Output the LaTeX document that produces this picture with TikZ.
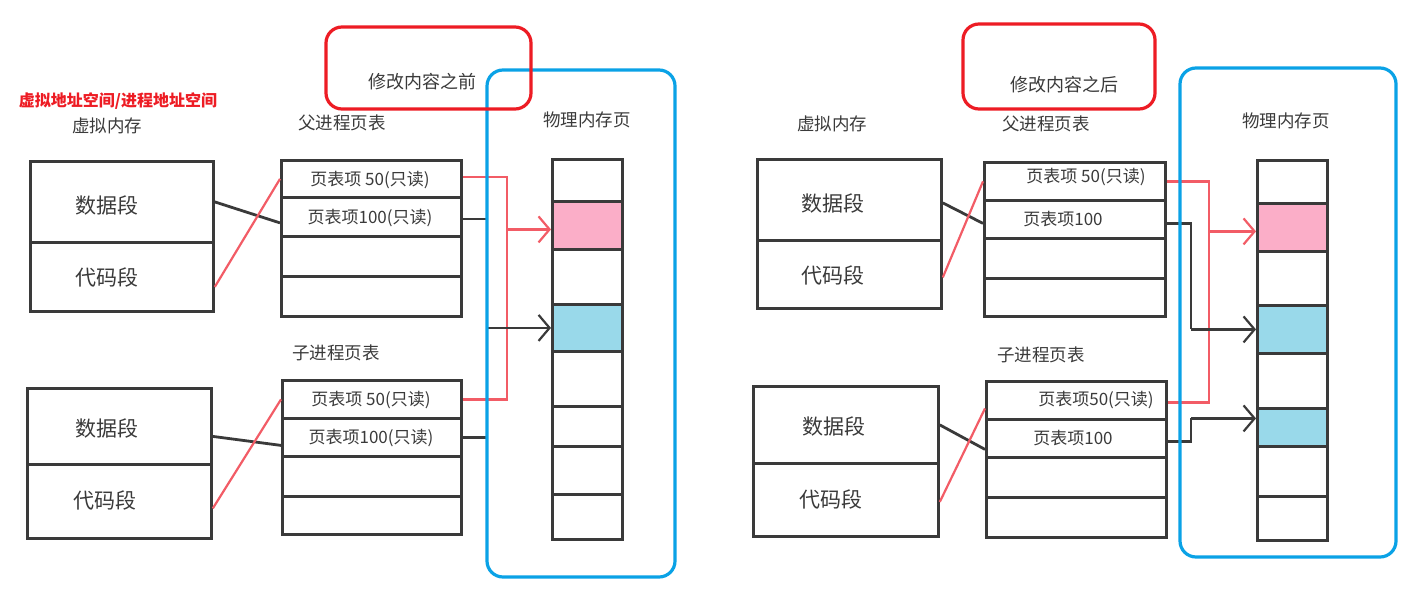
\documentclass[tikz,border=0pt]{standalone}
\usepackage{fontspec}
\setmainfont{Noto Sans CJK SC}
\usetikzlibrary{arrows.meta}
\definecolor{ink}{HTML}{3A3A3A}
\definecolor{redline}{HTML}{F25C66}
\definecolor{framered}{HTML}{ED1C24}
\definecolor{frameblue}{HTML}{0AA2E6}
\definecolor{pinkcell}{HTML}{FBAEC8}
\definecolor{bluecell}{HTML}{99D9EA}
\begin{document}
\begin{tikzpicture}[x=1pt,y=-1pt,
  box/.style={draw=ink,line width=2.8pt,inner sep=0pt,anchor=north west},
  lbl/.style={font=\fontsize{17.5}{20}\selectfont,text=ink,inner sep=0pt},
  seg/.style={font=\fontsize{21}{24}\selectfont,text=ink,inner sep=0pt},
  rowtxt/.style={font=\fontsize{17}{19}\selectfont,text=ink,inner sep=0pt},
  blk/.style={draw=ink,line width=2.8pt},
  redl/.style={draw=redline,line width=2.2pt},
  tip/.style={-{Straight Barb[length=11pt,width=26pt,line width=2.2pt]}},
  redframe/.style={draw=framered,line width=3.2pt,rounded corners=16pt},
  blueframe/.style={draw=frameblue,line width=3.2pt,rounded corners=16pt}]
\useasboundingbox (0,0) rectangle (1420,594);

% ================= LEFT (before) =================
\node[font=\bfseries\fontsize{16}{18}\selectfont,text=framered,inner sep=0pt] (ltitle) at (118,101) {虚拟地址空间/进程地址空间};
\node[lbl] (lvm) at (107,126) {虚拟内存};
\node[lbl] (lppt) at (342,123) {父进程页表};
\node[lbl] (lpm) at (587,120) {物理内存页};
\node[lbl] (lcpt) at (336,353) {子进程页表};

% virtual memory boxes
\node[box,minimum width=183pt,minimum height=81pt] (lvd) at (29,160) {};
\node[box,minimum width=183pt,minimum height=69pt] (lvc) at (29,241) {};
\node[box,minimum width=184pt,minimum height=76pt] (lcvd) at (26,387) {};
\node[box,minimum width=184pt,minimum height=74pt] (lcvc) at (26,463) {};
\node[seg] (lvdt) at (107,205) {数据段};
\node[seg] (lvct) at (107,277) {代码段};
\node[seg] (lcvdt) at (107,428) {数据段};
\node[seg] (lcvct) at (105,500) {代码段};

% parent page table
\node[box,minimum width=180pt,minimum height=37pt] (lpp1) at (280,159) {};
\node[box,minimum width=180pt,minimum height=39pt] (lpp2) at (280,196) {};
\node[box,minimum width=180pt,minimum height=40pt] (lpp3) at (280,235) {};
\node[box,minimum width=180pt,minimum height=40pt] (lpp4) at (280,275) {};
\node[rowtxt] (lpt1) at (370,180) {页表项 50(只读)};
\node[rowtxt] (lpt2) at (370,218) {页表项100(只读)};
% child page table
\node[box,minimum width=179pt,minimum height=38pt] (lcp1) at (281,379) {};
\node[box,minimum width=179pt,minimum height=38pt] (lcp2) at (281,417) {};
\node[box,minimum width=179pt,minimum height=40pt] (lcp3) at (281,455) {};
\node[box,minimum width=179pt,minimum height=38pt] (lcp4) at (281,495) {};
\node[rowtxt] (lct1) at (371,400) {页表项 50(只读)};
\node[rowtxt] (lct2) at (371,438) {页表项100(只读)};

% physical memory column
\node[box,minimum width=70pt,minimum height=42pt] (lm1) at (551,158) {};
\node[box,fill=pinkcell,minimum width=70pt,minimum height=48pt] (lm2) at (551,200) {};
\node[box,minimum width=70pt,minimum height=55pt] (lm3) at (551,248) {};
\node[box,fill=bluecell,minimum width=70pt,minimum height=47pt] (lm4) at (551,303) {};
\node[box,minimum width=70pt,minimum height=55pt] (lm5) at (551,350) {};
\node[box,minimum width=70pt,minimum height=40pt] (lm6) at (551,405) {};
\node[box,minimum width=70pt,minimum height=48pt] (lm7) at (551,445) {};
\node[box,minimum width=70pt,minimum height=45pt] (lm8) at (551,493) {};

% connectors virtual -> page table
\draw[blk] (lvd.east) -- ([yshift=-6pt]lpp2.west);
\draw[redl] ([yshift=-10pt]lvc.east) -- (lpp1.west);
\draw[blk] ([yshift=-10pt]lcvd.east) -- ([yshift=-8pt]lcp2.west);
\draw[redl] ([yshift=-7pt]lcvc.east) -- (lcp1.west);

% page table -> physical
\coordinate (lrx) at (507,300);
\coordinate (lbx) at (487,300);
\draw[redl] ([yshift=2pt]lpp1.east) -- ([yshift=2pt]lpp1.east -| lrx) -- (lcp1.east -| lrx) -- (lcp1.east);
\draw[redl,tip] ([yshift=-4pt]lrx |- lm2.west) -- ([yshift=-4pt]lm2.west);
\draw[blk] ([yshift=-2pt]lpp2.east) -- ([yshift=-2pt]lpp2.east -| lbx) -- (lcp2.east -| lbx) -- (lcp2.east);
\draw[blk,tip] (lbx |- lm4.west) -- (lm4.west);

% frames
\draw[blueframe] (487,70) rectangle (675,577);
\draw[redframe] (326,27) rectangle (531,109);
\node[lbl,font=\fontsize{18}{20}\selectfont] (lbefore) at (422,82) {修改内容之前};

% ================= RIGHT (after) =================
\node[lbl] (rvm) at (832,124) {虚拟内存};
\node[lbl] (rppt) at (1046,124) {父进程页表};
\node[lbl] (rpm) at (1286,121) {物理内存页};
\node[lbl] (rcpt) at (1041,355) {子进程页表};

\node[box,minimum width=184pt,minimum height=81pt] (rvd) at (756,158) {};
\node[box,minimum width=184pt,minimum height=68pt] (rvc) at (756,239) {};
\node[box,minimum width=185pt,minimum height=77pt] (rcvd) at (752,385) {};
\node[box,minimum width=185pt,minimum height=73pt] (rcvc) at (752,462) {};
\node[seg] (rvdt) at (833,203) {数据段};
\node[seg] (rvct) at (833,275) {代码段};
\node[seg] (rcvdt) at (834,426) {数据段};
\node[seg] (rcvct) at (831,499) {代码段};

\node[box,minimum width=181pt,minimum height=38pt] (rpp1) at (983,161) {};
\node[box,minimum width=181pt,minimum height=38pt] (rpp2) at (983,199) {};
\node[box,minimum width=181pt,minimum height=40pt] (rpp3) at (983,237) {};
\node[box,minimum width=181pt,minimum height=38pt] (rpp4) at (983,277) {};
\node[rowtxt] (rpt1) at (1086,177) {页表项 50(只读)};
\node[rowtxt] (rpt2) at (1063,219) {页表项100};

\node[box,minimum width=180pt,minimum height=38pt] (rcp1) at (985,380) {};
\node[box,minimum width=180pt,minimum height=38pt] (rcp2) at (985,418) {};
\node[box,minimum width=180pt,minimum height=40pt] (rcp3) at (985,456) {};
\node[box,minimum width=180pt,minimum height=40pt] (rcp4) at (985,496) {};
\node[rowtxt] (rct1) at (1096,400) {页表项50(只读)};
\node[rowtxt] (rct2) at (1073,438) {页表项100};

\node[box,minimum width=70pt,minimum height=43pt] (rm1) at (1256,159) {};
\node[box,fill=pinkcell,minimum width=70pt,minimum height=48pt] (rm2) at (1256,202) {};
\node[box,minimum width=70pt,minimum height=54pt] (rm3) at (1256,250) {};
\node[box,fill=bluecell,minimum width=70pt,minimum height=48pt] (rm4) at (1256,304) {};
\node[box,minimum width=70pt,minimum height=55pt] (rm5) at (1256,352) {};
\node[box,fill=bluecell,minimum width=70pt,minimum height=38pt] (rm6) at (1256,407) {};
\node[box,minimum width=70pt,minimum height=50pt] (rm7) at (1256,445) {};
\node[box,minimum width=70pt,minimum height=44pt] (rm8) at (1256,495) {};

\draw[blk] ([yshift=-3pt]rvd.east) -- ([yshift=-4pt]rpp2.west);
\draw[redl] ([yshift=-3pt]rvc.east) -- (rpp1.west);
\draw[blk] (rcvd.east) -- ([yshift=-11pt]rcp2.west);
\draw[redl] ([yshift=-2pt]rcvc.east) -- ([yshift=-8pt]rcp1.west);

\coordinate (rrx) at (1209,300);
\coordinate (rbx) at (1191,300);
\draw[redl] (rpp1.east) -- (rpp1.east -| rrx) -- ([yshift=-2pt]rcp1.east -| rrx) -- ([yshift=-2pt]rcp1.east);
\draw[redl,tip] ([yshift=-4pt]rrx |- rm2.west) -- ([yshift=-4pt]rm2.west);
\draw[blk] ([yshift=-4pt]rpp2.east) -- ([yshift=-4pt]rpp2.east -| rbx) -- (rbx |- rm4.west);
\draw[blk,tip] (rbx |- rm4.west) -- (rm4.west);
\draw[blk] ([yshift=-3pt]rcp2.east) -- ([yshift=-3pt]rcp2.east -| rbx) -- ([yshift=9pt]rbx |- rm6.west);
\draw[blk,tip] ([yshift=9pt]rbx |- rm6.west) -- ([yshift=9pt]rm6.west);

\draw[blueframe] (1180,68) rectangle (1396,557);
\draw[redframe] (963,24) rectangle (1155,109);
\node[lbl,font=\fontsize{18}{20}\selectfont] (rafter) at (1064,85) {修改内容之后};
\end{tikzpicture}
\end{document}
